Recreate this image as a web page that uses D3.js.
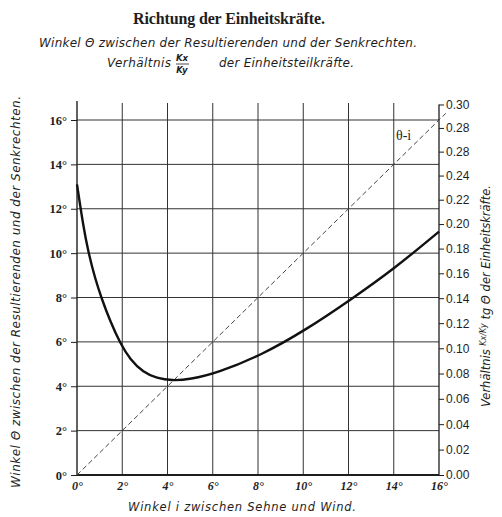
<!DOCTYPE html>
<html>
<head>
<meta charset="utf-8">
<script src="https://cdn.jsdelivr.net/npm/d3@7/dist/d3.min.js"></script>
<style>
  html, body { margin: 0; padding: 0; background: #fff; }
  svg { display: block; }
</style>
</head>
<body>
<div id="chart"></div>
<script>
// Winkel i (deg) vs. Winkel Theta (deg)
const angleI = [0, 0.28, 0.5, 0.8, 1.09, 1.46, 1.9, 2.35, 2.93, 3.53, 4.19, 5.0, 6.18, 8.17, 10.16, 12.08, 14.0, 16.0];
const theta  = [13.1, 11.2, 10.05, 8.85, 7.95, 6.95, 5.95, 5.2, 4.62, 4.36, 4.25, 4.31, 4.59, 5.41, 6.57, 7.89, 9.28, 10.97];

// reference line theta = i
const refLine = [0, 16.3];

const xTicks = [0, 2, 4, 6, 8, 10, 12, 14, 16];
const yTicks = [0, 2, 4, 6, 8, 10, 12, 14, 16];
const tanTicks = [0, 0.02, 0.04, 0.06, 0.08, 0.10, 0.12, 0.14, 0.16, 0.18, 0.20, 0.22, 0.24, 0.26, 0.28, 0.30];
const tanLabels = ['0.00', '0.02', '0.04', '0.06', '0.08', '0.10', '0.12', '0.14', '0.16', '0.18', '0.20', '0.22', '0.24', '0.28', '0.28', '0.30'];

const W = 502, H = 517;
const m = { left: 77, right: 439, bottom: 475, top: 120 };

const svg = d3.select('#chart').append('svg')
  .attr('width', W).attr('height', H);

const x = d3.scaleLinear().domain([0, 16]).range([m.left, m.right]);
const y = d3.scaleLinear().domain([0, 16]).range([m.bottom, m.top]);

// tangent scale for the right axis (piecewise through atan)
const tanY = d3.scaleLinear()
  .domain(tanTicks)
  .range(tanTicks.map(v => y(Math.atan(v) * 180 / Math.PI)));

const ink = '#1e1e1e';

// grid
const grid = svg.append('g').attr('stroke', '#333').attr('stroke-width', 1);
grid.selectAll('.vline')
  .data(xTicks.slice(1, -1))
  .join('line')
  .attr('x1', d => x(d)).attr('x2', d => x(d))
  .attr('y1', m.bottom).attr('y2', m.top - 17);
grid.selectAll('.hline')
  .data(yTicks.slice(1))
  .join('line')
  .attr('x1', m.left).attr('x2', m.right)
  .attr('y1', d => y(d)).attr('y2', d => y(d));

// frame: left axis, bottom axis, right axis
svg.append('line').attr('x1', m.left).attr('x2', m.left).attr('y1', m.bottom).attr('y2', m.top - 19)
  .attr('stroke', ink).attr('stroke-width', 1.4);
svg.append('line').attr('x1', m.left).attr('x2', m.right).attr('y1', m.bottom).attr('y2', m.bottom)
  .attr('stroke', ink).attr('stroke-width', 1.8);
svg.append('line').attr('x1', m.right).attr('x2', m.right).attr('y1', m.bottom).attr('y2', tanY(0.30))
  .attr('stroke', ink).attr('stroke-width', 1.3);

// left axis
const yAxis = svg.append('g')
  .attr('transform', `translate(${m.left},0)`)
  .call(d3.axisLeft(y).tickValues(yTicks).tickSize(6).tickPadding(4).tickFormat(d => d + '°'));
yAxis.select('.domain').remove();
yAxis.selectAll('line').attr('stroke', ink);
yAxis.selectAll('text')
  .attr('font-family', 'Liberation Serif, serif')
  .attr('font-weight', 'bold')
  .attr('font-size', 12.5)
  .attr('fill', ink);

// bottom axis labels
const xAxis = svg.append('g')
  .attr('transform', `translate(0,${m.bottom})`)
  .call(d3.axisBottom(x).tickValues(xTicks).tickSize(0).tickPadding(6).tickFormat(d => d + '°'));
xAxis.select('.domain').remove();
xAxis.selectAll('text')
  .attr('font-family', 'Liberation Serif, serif')
  .attr('font-style', 'italic')
  .attr('font-weight', 'bold')
  .attr('font-size', 12)
  .attr('fill', ink);

// right axis (tg theta)
const rAxis = svg.append('g')
  .attr('transform', `translate(${m.right},0)`)
  .call(d3.axisRight(tanY).tickValues(tanTicks).tickSize(5).tickPadding(2)
    .tickFormat((d, i) => tanLabels[i]));
rAxis.select('.domain').remove();
rAxis.selectAll('line').attr('stroke', ink);
rAxis.selectAll('text')
  .attr('font-family', 'Liberation Sans Narrow, Liberation Sans, sans-serif')
  .attr('font-size', 12)
  .attr('fill', ink);

// dashed theta = i line
svg.append('line')
  .attr('x1', x(refLine[0])).attr('y1', y(refLine[0]))
  .attr('x2', x(refLine[1])).attr('y2', y(refLine[1]))
  .attr('stroke', '#444').attr('stroke-width', 1)
  .attr('stroke-dasharray', '5,3');

svg.append('text')
  .attr('x', x(14.1)).attr('y', y(15.1))
  .attr('font-family', 'Liberation Serif, serif')
  .attr('font-size', 14)
  .attr('fill', ink)
  .text('θ-i');

// curve
const line = d3.line()
  .x((d, i) => x(angleI[i]))
  .y(d => y(d))
  .curve(d3.curveBasis);
svg.append('path')
  .datum(theta)
  .attr('d', line)
  .attr('fill', 'none')
  .attr('stroke', '#111')
  .attr('stroke-width', 2.4);

// titles
svg.append('text')
  .attr('x', 229).attr('y', 24)
  .attr('text-anchor', 'middle')
  .attr('font-family', 'Liberation Serif, serif')
  .attr('font-weight', 'bold')
  .attr('font-size', 16)
  .attr('fill', ink)
  .attr('textLength', 192)
  .text('Richtung der Einheitskräfte.');

svg.append('text')
  .attr('x', 228).attr('y', 47)
  .attr('text-anchor', 'middle')
  .attr('font-family', 'DejaVu Sans, sans-serif')
  .attr('font-style', 'italic')
  .attr('font-size', 12)
  .attr('fill', ink)
  .attr('textLength', 378)
  .text('Winkel Θ zwischen der Resultierenden und der Senkrechten.');

const sub = svg.append('g')
  .attr('font-family', 'DejaVu Sans, sans-serif')
  .attr('font-style', 'italic')
  .attr('fill', ink);
sub.append('text').attr('x', 107).attr('y', 67).attr('font-size', 12)
  .attr('textLength', 64).text('Verhältnis');
sub.append('text').attr('x', 182).attr('y', 61).attr('text-anchor', 'middle')
  .attr('font-size', 8.5).attr('font-weight', 'bold').text('Kx');
sub.append('line').attr('x1', 176).attr('x2', 189).attr('y1', 64).attr('y2', 64)
  .attr('stroke', ink).attr('stroke-width', 0.8);
sub.append('text').attr('x', 182).attr('y', 73).attr('text-anchor', 'middle')
  .attr('font-size', 8.5).attr('font-weight', 'bold').text('Ky');
sub.append('text').attr('x', 219).attr('y', 67).attr('font-size', 12)
  .attr('textLength', 135).text('der Einheitsteilkräfte.');

// bottom axis title
svg.append('text')
  .attr('x', 242).attr('y', 511)
  .attr('text-anchor', 'middle')
  .attr('font-family', 'DejaVu Sans, sans-serif')
  .attr('font-style', 'italic')
  .attr('font-size', 11.5)
  .attr('fill', ink)
  .attr('textLength', 228)
  .text('Winkel i zwischen Sehne und Wind.');

// left axis title
svg.append('text')
  .attr('transform', 'translate(20,292) rotate(-90)')
  .attr('text-anchor', 'middle')
  .attr('font-family', 'DejaVu Sans, sans-serif')
  .attr('font-style', 'italic')
  .attr('font-size', 12)
  .attr('fill', ink)
  .attr('textLength', 392)
  .text('Winkel Θ zwischen der Resultierenden und der Senkrechten.');

// right axis title
const rt = svg.append('text')
  .attr('transform', 'translate(490,296) rotate(-90)')
  .attr('text-anchor', 'middle')
  .attr('font-family', 'DejaVu Sans, sans-serif')
  .attr('font-style', 'italic')
  .attr('font-size', 11.5)
  .attr('fill', ink);
rt.append('tspan').text('Verhältnis ');
rt.append('tspan').attr('font-size', 8).attr('dy', -4).text('Kx/Ky');
rt.append('tspan').attr('dy', 4).text(' tg Θ der Einheitskräfte.');
</script>
</body>
</html>
